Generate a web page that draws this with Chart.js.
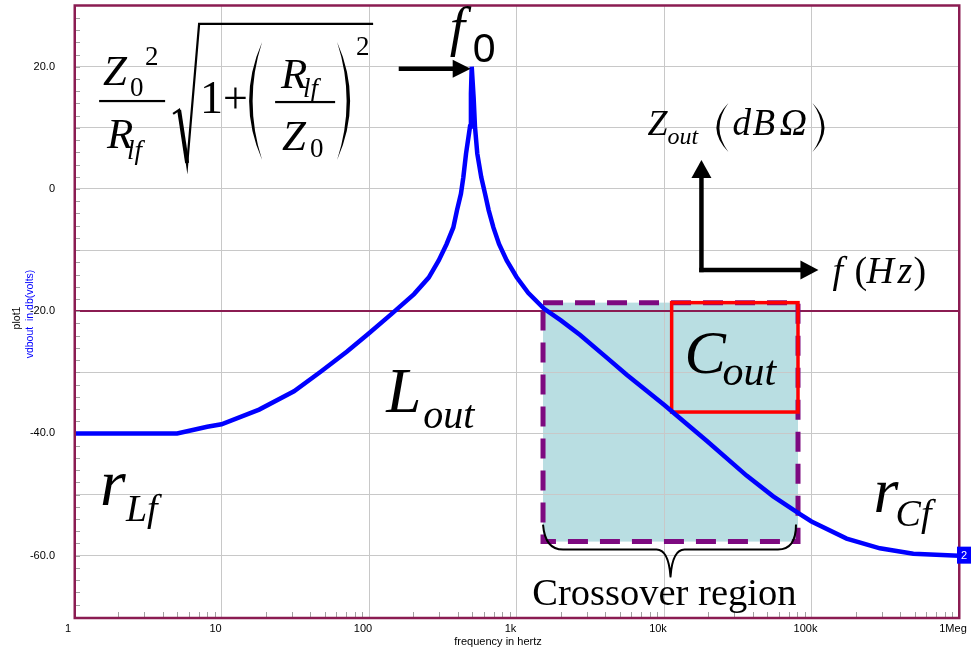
<!DOCTYPE html>
<html>
<head>
<meta charset="utf-8">
<title>Output impedance of the LC filter</title>
<script src="https://cdn.jsdelivr.net/npm/chart.js@4.4.1/dist/chart.umd.min.js"></script>
<style>
  html, body { margin: 0; padding: 0; background: #ffffff; }
  canvas { display: block; }
</style>
</head>
<body>
<canvas id="chart" width="971" height="652"></canvas>
<script>
// Output impedance magnitude of the filter, dB-ohm versus frequency
const freqHz = [1, 3, 5, 6.5, 8, 10, 18, 31, 47, 71, 100, 143, 202, 254, 297, 336, 373, 395, 420, 436, 455, 484, 491, 497,
                512, 523, 542, 577, 612, 648, 697, 761, 858, 1000, 1200, 1540, 2000, 2700, 4090, 5585, 10000, 19450,
                36300, 55000, 83500, 100000, 173000, 291000, 490000, 1000000];
const zoutDb = [-40, -40, -40, -39.4, -38.9, -38.5, -36.1, -33.1, -29.9, -26.6, -23.6, -20.4, -17.2, -14.5, -11.7, -9.0, -6.3, -3.5, -0.8, 1.9, 5.8, 10.2, 15.6, 20.0,
                15.0, 10.2, 5.8, 1.9, -0.8, -3.5, -6.3, -9.0, -11.7, -14.4, -17.0, -19.6, -21.5, -23.9, -27.6, -30.4, -35.3, -41.2,
                -46.9, -50.3, -53.2, -54.4, -57.2, -58.8, -59.7, -60.0];

// Axis ticks
const decadeTicks = [1, 10, 100, 1e3, 1e4, 1e5, 1e6];
const decadeLabels = ['1', '10', '100', '1k', '10k', '100k', '1Meg'];
const dbTicks = [-60, -50, -40, -30, -20, -10, 0, 10, 20];
const minorMultipliers = [2, 3, 4, 5, 6, 7, 8, 9];

// Crossover region and the capacitor-dominated box
const crossoverHz = [1513, 81000];
const crossoverDb = [-18.6, -57.7];
const coutHz = [11270, 81000];
const coutDb = [-18.6, -36.5];

// Resonance point f0
const peakHz = 497;
const peakDb = 20;

const MAROON = '#8b1c52';
const GRID = '#c8c8c8';
const SERIF = '"Liberation Serif", "Times New Roman", serif';
const SANS = '"Liberation Sans", Arial, sans-serif';

function put(ctx, s, x, y, size, italic, family) {
  ctx.font = (italic ? 'italic ' : '') + size + 'px ' + (family || SERIF);
  ctx.fillText(s, x, y);
  return x + ctx.measureText(s).width;
}

// Tall crescent-shaped parenthesis; x = tips, bulge = width of the curve
function paren(ctx, x, top, bot, bulge, thick, opening) {
  const mid = (top + bot) / 2, d = opening ? -1 : 1;
  ctx.beginPath();
  ctx.moveTo(x, top);
  ctx.quadraticCurveTo(x + d * bulge * 2, mid, x, bot);
  ctx.quadraticCurveTo(x + d * (bulge - thick) * 2, mid, x, top);
  ctx.closePath();
  ctx.fill();
}

function arrow(ctx, x0, y0, x1, y1, head, half, width) {
  const ang = Math.atan2(y1 - y0, x1 - x0);
  const bx = x1 - Math.cos(ang) * head, by = y1 - Math.sin(ang) * head;
  ctx.lineWidth = width;
  ctx.lineCap = 'butt';
  ctx.beginPath();
  ctx.moveTo(x0, y0);
  ctx.lineTo(bx + Math.cos(ang) * 2, by + Math.sin(ang) * 2);
  ctx.stroke();
  ctx.beginPath();
  ctx.moveTo(x1, y1);
  ctx.lineTo(bx - Math.sin(ang) * half, by + Math.cos(ang) * half);
  ctx.lineTo(bx + Math.sin(ang) * half, by - Math.cos(ang) * half);
  ctx.closePath();
  ctx.fill();
}

const annotations = {
  id: 'annotations',
  beforeDraw(chart) {
    const { ctx } = chart;
    const xs = chart.scales.x, ys = chart.scales.y;
    ctx.save();
    ctx.fillStyle = '#ffffff';
    ctx.fillRect(0, 0, chart.width, chart.height);
    // shaded crossover region sits under the grid
    const x0 = xs.getPixelForValue(crossoverHz[0]), x1 = xs.getPixelForValue(crossoverHz[1]);
    const y0 = ys.getPixelForValue(crossoverDb[0]), y1 = ys.getPixelForValue(crossoverDb[1]);
    ctx.fillStyle = '#b9dee2';
    ctx.fillRect(x0, y0, x1 - x0, y1 - y0);
    ctx.restore();
  },
  beforeDatasetsDraw(chart) {
    const { ctx, chartArea: a } = chart;
    const xs = chart.scales.x, ys = chart.scales.y;
    ctx.save();
    // minor ticks
    ctx.strokeStyle = '#a0a0a0';
    ctx.lineWidth = 1;
    ctx.beginPath();
    for (let i = 0; i < decadeTicks.length - 1; i++) {
      for (const m of minorMultipliers) {
        const x = Math.round(xs.getPixelForValue(decadeTicks[i] * m)) + 0.5;
        ctx.moveTo(x, a.bottom);
        ctx.lineTo(x, a.bottom - 6);
      }
    }
    for (let v = -70; v <= 30; v += 2) {
      const y = ys.getPixelForValue(v);
      if (y < a.top + 2 || y > a.bottom - 2) continue;
      const yy = Math.round(y) + 0.5;
      ctx.moveTo(a.left, yy);
      ctx.lineTo(a.left + 6, yy);
    }
    ctx.stroke();

    // dashed border of crossover region
    const x0 = xs.getPixelForValue(crossoverHz[0]), x1 = xs.getPixelForValue(crossoverHz[1]);
    const y0 = ys.getPixelForValue(crossoverDb[0]), y1 = ys.getPixelForValue(crossoverDb[1]);
    ctx.strokeStyle = '#7d0a80';
    ctx.lineWidth = 5;
    ctx.setLineDash([20, 12]);
    ctx.strokeRect(x0, y0, x1 - x0, y1 - y0);
    ctx.setLineDash([]);

    // Cout box
    const cx0 = xs.getPixelForValue(coutHz[0]), cx1 = xs.getPixelForValue(coutHz[1]);
    const cy0 = ys.getPixelForValue(coutDb[0]), cy1 = ys.getPixelForValue(coutDb[1]);
    ctx.strokeStyle = '#ff0000';
    ctx.lineWidth = 3.5;
    ctx.strokeRect(cx0, cy0, cx1 - cx0, cy1 - cy0);
    ctx.restore();
  },
  afterDatasetsDraw(chart) {
    const { ctx, chartArea: a } = chart;
    const xs = chart.scales.x, ys = chart.scales.y;
    const X = v => xs.getPixelForValue(v), Y = v => ys.getPixelForValue(v);
    ctx.save();

    // plot frame
    ctx.strokeStyle = MAROON;
    ctx.lineWidth = 2.5;
    ctx.strokeRect(a.left + 0.75, a.top + 0.5, a.right - a.left - 0.5, a.bottom - a.top - 0.5);

    ctx.fillStyle = '#000';
    ctx.strokeStyle = '#000';
    ctx.textBaseline = 'alphabetic';
    ctx.textAlign = 'left';

    // peak formula  Z0^2/Rlf * sqrt(1 + (Rlf/Z0)^2)
    let ax = X(1.48), ay = Y(14.4);
    put(ctx, 'Z', ax + 4, ay - 16, 43, true);
    put(ctx, '0', ax + 31, ay - 5, 27, false);
    put(ctx, '2', ax + 46, ay - 36, 27, false);
    ctx.fillRect(ax, ay - 1, 66, 2.2);
    put(ctx, 'R', ax + 8, ay + 47, 43, true);
    put(ctx, 'lf', ax + 28, ay + 58, 27, true);
    ctx.lineJoin = 'miter';
    ctx.lineWidth = 2.2;
    ctx.beginPath();
    ctx.moveTo(ax + 74, ay + 13);
    ctx.lineTo(ax + 80, ay + 9);
    ctx.lineTo(ax + 88, ay + 64);
    ctx.lineTo(ax + 100, ay - 77);
    ctx.lineTo(ax + 274, ay - 77);
    ctx.stroke();
    ctx.lineWidth = 4;
    ctx.beginPath();
    ctx.moveTo(ax + 80, ay + 9);
    ctx.lineTo(ax + 88, ay + 62);
    ctx.stroke();
    let t = put(ctx, '1', ax + 101, ay + 12, 46, false);
    put(ctx, '+', t, ay + 12, 44, false);
    paren(ctx, ax + 163, ay - 59, ay + 59, 13, 3.5, true);
    put(ctx, 'R', ax + 182, ay - 13, 43, true);
    put(ctx, 'lf', ax + 204, ay - 4, 27, true);
    ctx.fillRect(ax + 176, ay, 60, 2.2);
    put(ctx, 'Z', ax + 183, ay + 49, 43, true);
    put(ctx, '0', ax + 211, ay + 56, 27, false);
    paren(ctx, ax + 238, ay - 59, ay + 59, 13, 3.5, false);
    put(ctx, '2', ax + 257, ay - 46, 27, false);

    // f0 label with arrow to the resonance peak
    const px = X(peakHz), py = Y(peakDb);
    put(ctx, 'f', px - 22, py - 22, 55, true);
    put(ctx, '0', px + 1, py - 5, 41, false, SANS);
    arrow(ctx, px - 73, py + 2, px - 1, py + 2, 18, 9, 4.5);

    // Zout (dBΩ) versus f (Hz) axes sketch
    const cx = X(17940), cy = Y(-13.26);
    arrow(ctx, cx, cy + 2.2, cx, cy - 110, 18, 10, 4.5);
    arrow(ctx, cx - 2.2, cy, cx + 117, cy, 18, 9.5, 4.5);
    put(ctx, 'Z', cx - 54, cy - 135, 36, true);
    put(ctx, 'out', cx - 34, cy - 126, 24, true);
    paren(ctx, cx + 27, cy - 167, cy - 118, 12, 3, true);
    put(ctx, 'd', cx + 31, cy - 135, 37, true);
    put(ctx, 'B', cx + 51, cy - 135, 37, true);
    put(ctx, '\u03A9', cx + 78, cy - 135, 38, true);
    paren(ctx, cx + 111, cy - 167, cy - 118, 12, 3, false);
    put(ctx, 'f', cx + 131, cy + 12.5, 38, true);
    put(ctx, '(', cx + 153, cy + 12.5, 38, false);
    put(ctx, 'H', cx + 165, cy + 12.5, 38, true);
    put(ctx, 'z', cx + 196, cy + 12.5, 38, true);
    put(ctx, ')', cx + 212, cy + 12.5, 38, false);

    // region names
    let lx = X(130.8), ly = Y(-36.5);
    put(ctx, 'L', lx, ly, 63, true);
    put(ctx, 'out', lx + 37, ly + 16, 40, true);

    lx = X(1.5); ly = Y(-51.7);
    put(ctx, 'r', lx, ly, 66, true);
    put(ctx, 'Lf', lx + 26, ly + 16, 38, true);

    lx = X(263400); ly = Y(-52.85);
    put(ctx, 'r', lx, ly, 64, true);
    put(ctx, 'Cf', lx + 22, ly + 14, 38, true);

    lx = X(13750); ly = Y(-30.1);
    put(ctx, 'C', lx, ly, 62, true);
    put(ctx, 'out', lx + 38, ly + 12, 42, true);

    put(ctx, 'Crossover region', X(1280), Y(-68.07), 38.5, false);

    // brace under the crossover region
    const bl = X(crossoverHz[0]), br = X(crossoverHz[1]), bb = Y(crossoverDb[1]);
    const mid = (bl + br) / 2;
    ctx.lineWidth = 2;
    ctx.lineJoin = 'round';
    ctx.beginPath();
    ctx.moveTo(bl, bb - 17);
    ctx.quadraticCurveTo(bl + 2, bb + 8, bl + 20, bb + 8);
    ctx.lineTo(mid - 14, bb + 8);
    ctx.quadraticCurveTo(mid - 2, bb + 8, mid, bb + 35);
    ctx.quadraticCurveTo(mid + 2, bb + 8, mid + 14, bb + 8);
    ctx.lineTo(br - 20, bb + 8);
    ctx.quadraticCurveTo(br - 2, bb + 8, br - 2, bb - 17);
    ctx.stroke();

    // trace number marker at the end of the curve
    const ex = X(freqHz[freqHz.length - 1]), ey = Y(zoutDb[zoutDb.length - 1]);
    ctx.fillStyle = '#0000ff';
    ctx.fillRect(ex - 2, ey - 9, 14, 17);
    ctx.fillStyle = '#ffffff';
    ctx.font = '11px ' + SANS;
    ctx.textAlign = 'center';
    ctx.textBaseline = 'middle';
    ctx.fillText('2', ex + 5, ey);

    // axis titles
    ctx.fillStyle = '#000';
    ctx.font = '11px ' + SANS;
    ctx.fillText('frequency in hertz', 498, 642);
    ctx.save();
    ctx.translate(17, 318);
    ctx.rotate(-Math.PI / 2);
    ctx.font = '10.5px ' + SANS;
    ctx.fillText('plot1', 0, 0);
    ctx.restore();
    ctx.save();
    ctx.translate(30, 314);
    ctx.rotate(-Math.PI / 2);
    ctx.fillStyle = '#0000ff';
    ctx.font = '10.5px ' + SANS;
    ctx.fillText('vdbout  in db(volts)', 0, 0);
    ctx.restore();

    ctx.restore();
  }
};

new Chart(document.getElementById('chart'), {
  type: 'scatter',
  data: {
    datasets: [{
      data: freqHz.map((f, i) => ({ x: f, y: zoutDb[i] })),
      showLine: true,
      borderColor: '#0000ff',
      borderWidth: 4.5,
      pointRadius: 0,
      tension: 0,
      fill: false
    }]
  },
  options: {
    responsive: false,
    animation: false,
    layout: { autoPadding: false, padding: { top: 5, right: 12, left: 0, bottom: 0 } },
    plugins: { legend: { display: false }, tooltip: { enabled: false } },
    scales: {
      x: {
        type: 'logarithmic',
        min: 1,
        max: 1e6,
        afterBuildTicks: s => { s.ticks = decadeTicks.map(v => ({ value: v })); },
        afterFit: s => { s.height = 34; s.paddingLeft = 0; s.paddingRight = 0; },
        border: { display: false },
        grid: { color: GRID, lineWidth: 1, drawTicks: false },
        ticks: {
          autoSkip: false,
          maxRotation: 0,
          padding: 4,
          labelOffset: -6,
          color: '#000',
          font: { family: SANS, size: 11 },
          callback: (v, i) => decadeLabels[i]
        }
      },
      y: {
        min: -70.2,
        max: 30.1,
        afterBuildTicks: s => { s.ticks = dbTicks.map(v => ({ value: v })); },
        afterFit: s => { s.width = 74; s.paddingTop = 0; s.paddingBottom = 0; },
        border: { display: false },
        grid: {
          drawTicks: false,
          color: c => (c.tick && c.tick.value === -20 ? MAROON : GRID),
          lineWidth: c => (c.tick && c.tick.value === -20 ? 2 : 1)
        },
        ticks: {
          padding: 19,
          color: '#000',
          font: { family: SANS, size: 11 },
          callback: v => (v % 20 === 0 ? (v === 0 ? '0' : v.toFixed(1)) : '')
        }
      }
    }
  },
  plugins: [annotations]
});
</script>
</body>
</html>
